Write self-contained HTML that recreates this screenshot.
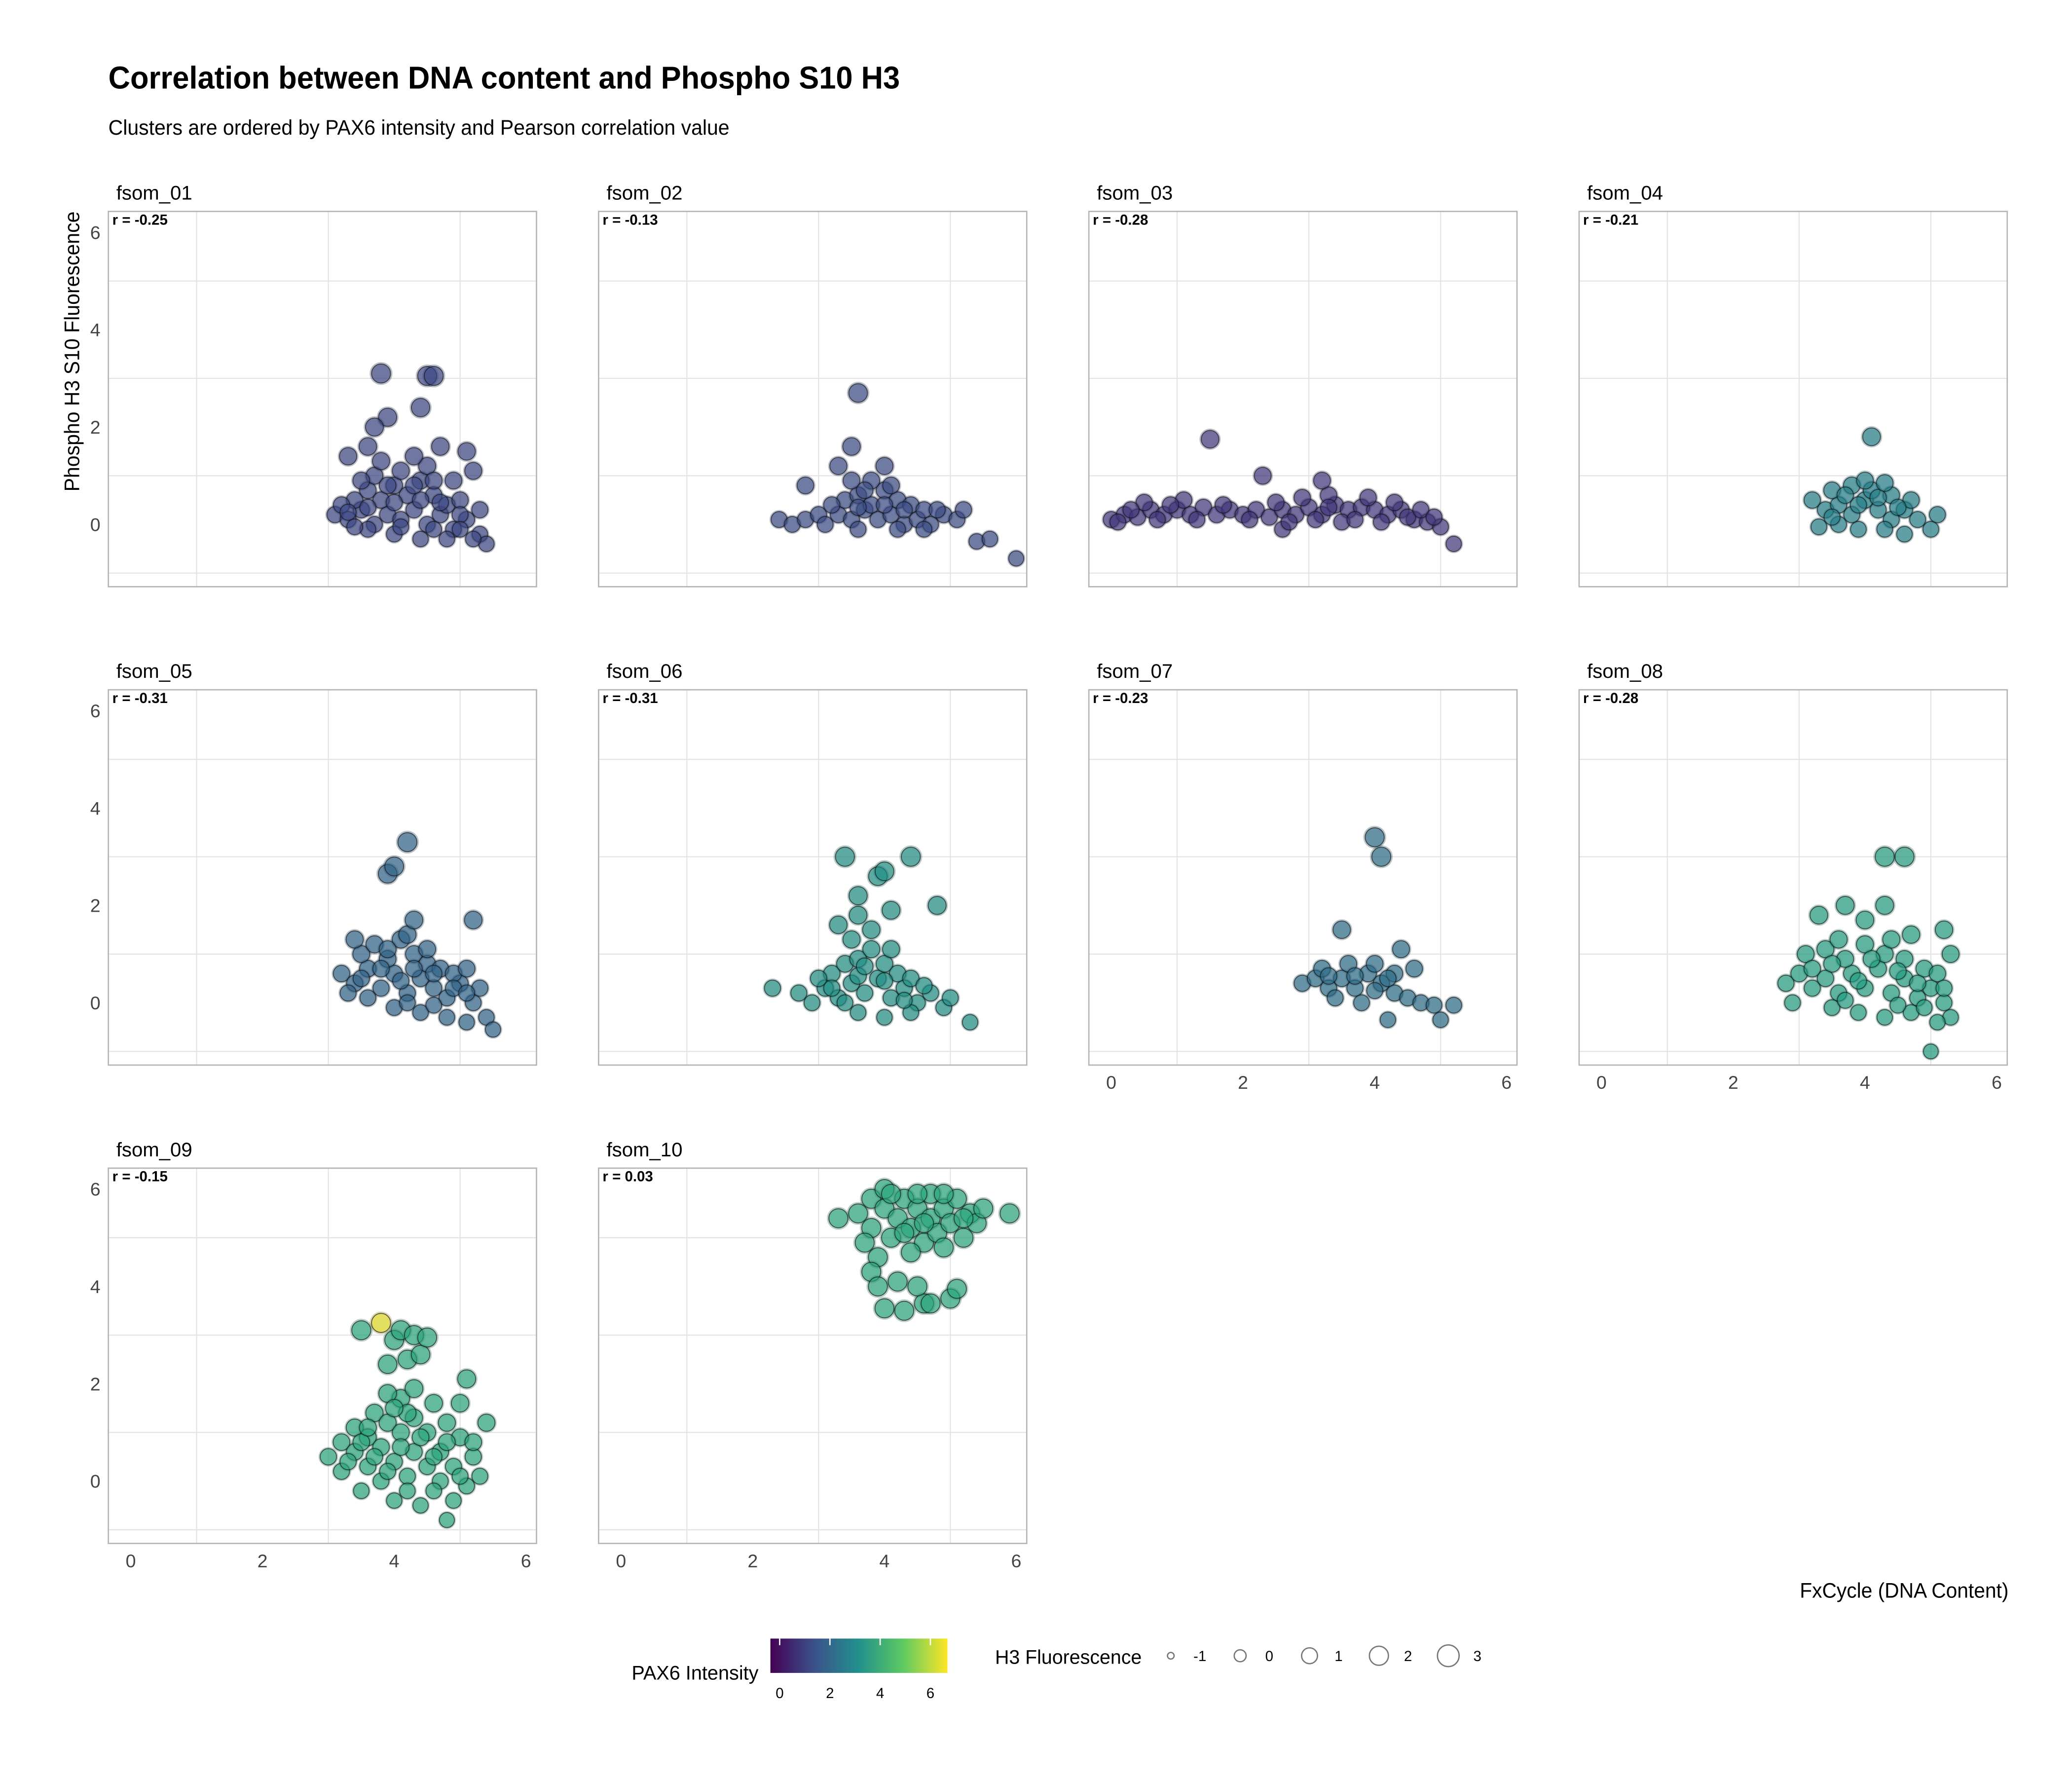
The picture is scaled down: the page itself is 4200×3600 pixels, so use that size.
<!DOCTYPE html>
<html><head><meta charset="utf-8">
<style>
html,body{margin:0;padding:0;background:#fff;}
svg{display:block;font-family:"Liberation Sans Narrow","Liberation Sans",sans-serif;}
</style></head>
<body>
<svg id="chart" width="4200" height="3600" viewBox="0 0 1568 1344" xmlns="http://www.w3.org/2000/svg">
<rect width="1568" height="1344" fill="#fff"/>
<text x="82" y="67" font-size="24" font-weight="bold" textLength="599" lengthAdjust="spacingAndGlyphs">Correlation between DNA content and Phospho S10 H3</text>
<text x="82" y="102" font-size="16" textLength="470" lengthAdjust="spacingAndGlyphs">Clusters are ordered by PAX6 intensity and Pearson correlation value</text>
<text transform="translate(60,266) rotate(-90)" text-anchor="middle" font-size="16" textLength="212" lengthAdjust="spacingAndGlyphs">Phospho H3 S10 Fluorescence</text>
<text x="1520" y="1209" text-anchor="end" font-size="16" textLength="158" lengthAdjust="spacingAndGlyphs">FxCycle (DNA Content)</text>
<g id="panels"></g>
<g id="legend">
<text x="574" y="1271" text-anchor="end" font-size="15" textLength="96" lengthAdjust="spacingAndGlyphs">PAX6 Intensity</text>
<defs><linearGradient id="vir" x1="0" x2="1" y1="0" y2="0">
<stop offset="0" stop-color="#440154"/><stop offset="0.25" stop-color="#3b528b"/><stop offset="0.5" stop-color="#21918c"/><stop offset="0.75" stop-color="#5ec962"/><stop offset="1" stop-color="#fde725"/></linearGradient></defs>
<rect x="583" y="1240" width="134" height="26" fill="url(#vir)"/>
<g id="cbticks"></g>
<text x="753" y="1259" font-size="15" textLength="111" lengthAdjust="spacingAndGlyphs">H3 Fluorescence</text>
<g id="sizelegend"></g>
</g>
</svg>
<script>
const panelNames = ["fsom_01","fsom_02","fsom_03","fsom_04","fsom_05","fsom_06","fsom_07","fsom_08","fsom_09","fsom_10"];
const panelR = ["-0.25","-0.13","-0.28","-0.21","-0.31","-0.31","-0.23","-0.28","-0.15","0.03"];
const panelPax = [1.2,1.3,0.8,2.8,1.9,3.3,2.2,3.7,4.0,4.0];
const xTicks = [0,2,4,6];
const yTicks = [0,2,4,6];
const sizeLegendValues = [-1,0,1,2,3];
const colorTicks = [0,2,4,6];
const pts = [
"3.1,0.2 3.3,0.1 3.5,0.3 3.7,0.0 3.9,0.2 4.1,0.1 4.3,0.3 4.5,0.0 4.7,0.2 4.9,-0.1 5.1,0.1 5.3,-0.2 5.4,-0.4 3.4,0.5 3.6,0.7 3.8,0.5 4.0,0.8 4.2,0.6 4.4,0.9 4.6,0.6 4.8,0.4 5.0,0.5 3.7,1.0 4.1,1.1 4.5,1.2 4.9,0.9 3.6,-0.1 4.0,-0.2 4.4,-0.3 4.8,-0.3 5.2,-0.3 3.2,0.4 3.8,1.3 4.3,1.4 3.3,1.4 3.6,1.6 3.9,2.2 3.7,2.0 4.4,2.4 3.8,3.1 4.5,3.05 4.6,3.05 4.7,1.6 5.1,1.5 5.2,1.1 5.3,0.3 3.3,0.25 3.6,0.35 4.0,0.45 4.4,0.5 4.7,0.45 5.0,0.2 3.9,0.8 4.3,0.8 4.6,0.9 3.5,0.9 4.1,-0.05 4.6,-0.1 5.0,-0.1 3.4,-0.05",
"2.4,0.1 2.6,0.0 2.8,0.1 3.0,0.2 3.1,0.0 3.3,0.2 3.5,0.1 3.7,0.3 3.9,0.1 4.1,0.2 4.3,0.0 4.5,0.1 4.7,0.0 4.9,0.2 5.1,0.1 3.4,0.5 3.6,0.6 3.8,0.4 4.0,0.7 4.2,0.5 4.4,0.4 4.6,0.3 3.5,0.9 3.8,0.9 4.1,0.8 3.3,1.2 4.0,1.2 3.5,1.6 3.6,2.7 2.8,0.8 5.2,0.3 5.4,-0.35 5.6,-0.3 6.0,-0.7 3.6,-0.1 4.2,-0.1 4.6,-0.1 3.2,0.4 3.6,0.35 4.0,0.4 4.3,0.3 3.7,0.7 4.8,0.3",
"0,0.1 0.2,0.2 0.4,0.15 0.6,0.3 0.8,0.2 1.0,0.3 1.2,0.2 1.4,0.35 1.6,0.2 1.8,0.3 2.0,0.2 2.2,0.3 2.4,0.15 2.6,0.3 2.8,0.2 3.0,0.35 3.2,0.2 3.4,0.4 3.6,0.3 3.8,0.35 4.0,0.3 4.2,0.2 4.4,0.3 4.6,0.1 4.8,0.05 5.0,-0.05 3.5,0.05 4.1,0.05 2.9,0.55 3.3,0.6 3.9,0.55 0.5,0.45 1.1,0.5 1.5,1.75 2.3,1.0 3.2,0.9 5.2,-0.4 2.6,-0.1 0.1,0.05 0.3,0.3 0.7,0.1 0.9,0.4 1.3,0.1 1.7,0.4 2.1,0.1 2.5,0.45 2.7,0.05 3.1,0.1 3.3,0.35 3.7,0.1 4.3,0.45 4.5,0.15 4.7,0.3 4.9,0.15",
"3.2,0.5 3.4,0.3 3.6,0.4 3.8,0.2 4.0,0.5 4.2,0.3 4.4,0.1 4.6,0.3 4.8,0.1 5.0,-0.1 3.5,0.7 3.8,0.8 4.1,0.7 4.4,0.6 4.7,0.5 3.6,0.0 3.9,-0.1 4.3,-0.1 4.6,-0.2 5.1,0.2 4.0,0.9 4.1,1.8 3.3,-0.05 3.5,0.15 3.9,0.4 4.2,0.55 4.5,0.35 3.7,0.6 4.3,0.85",
"3.2,0.6 3.4,0.4 3.6,0.7 3.8,0.3 4.0,0.6 4.2,0.2 4.4,0.5 4.6,0.3 4.8,0.1 5.0,0.4 5.2,0.0 5.3,0.3 5.4,-0.3 3.5,1.0 3.7,1.2 3.9,0.9 4.1,1.3 4.3,1.0 4.5,0.8 4.7,0.7 4.9,0.6 5.1,0.7 3.6,0.1 4.0,-0.1 4.4,-0.2 4.8,-0.3 5.1,-0.4 4.2,1.4 3.4,1.3 4.3,1.7 5.2,1.7 3.9,2.65 4.0,2.8 4.2,3.3 5.5,-0.55 3.3,0.2 3.5,0.5 3.8,0.7 4.1,0.45 4.3,0.7 4.6,0.6 4.9,0.3 5.1,0.2 3.9,1.1 4.5,1.1 4.2,0.0 4.6,-0.05",
"2.7,0.2 2.9,0.0 3.1,0.3 3.3,0.1 3.5,0.4 3.7,0.2 3.9,0.5 4.1,0.1 4.3,0.3 4.5,0.0 4.7,0.2 4.9,-0.1 5.0,0.1 3.2,0.6 3.4,0.8 3.6,0.9 3.8,1.1 4.0,0.8 4.2,0.6 4.4,0.5 3.5,1.3 3.8,1.5 3.6,-0.2 4.0,-0.3 4.4,-0.2 3.3,1.6 3.6,1.8 3.6,2.2 3.9,2.6 4.0,2.7 3.4,3.0 4.4,3.0 4.8,2.0 4.1,1.9 2.3,0.3 5.3,-0.4 3.0,0.5 3.2,0.3 3.6,0.55 4.0,0.45 4.3,0.05 4.6,0.35 3.7,0.75 4.1,1.1 3.4,0.0",
"2.9,0.4 3.1,0.5 3.3,0.3 3.5,0.5 3.7,0.3 3.9,0.6 4.1,0.4 4.3,0.2 4.5,0.1 4.7,0.0 4.9,-0.05 3.2,0.7 3.6,0.8 4.0,0.8 4.4,1.1 3.4,0.1 3.8,0.0 4.2,-0.35 4.6,0.7 5.0,-0.35 5.2,-0.05 3.5,1.5 4.0,3.4 4.1,3.0 4.3,0.6 3.3,0.55 3.7,0.55 4.0,0.25 4.2,0.5",
"2.8,0.4 3.0,0.6 3.2,0.3 3.4,0.5 3.6,0.2 3.8,0.6 4.0,0.3 4.2,0.7 4.4,0.2 4.6,0.5 4.8,0.1 5.0,0.3 5.2,0.0 5.3,-0.3 3.1,1.0 3.4,1.1 3.7,0.9 4.0,1.2 4.3,1.0 4.6,0.9 4.9,0.7 5.1,0.6 3.5,-0.1 3.9,-0.2 4.3,-0.3 4.7,-0.2 5.1,-0.4 3.6,1.3 4.4,1.3 3.3,1.8 3.7,2.0 4.0,1.7 4.3,2.0 4.3,3.0 4.6,3.0 4.7,1.4 5.2,1.5 5.3,1.0 5.0,-1.0 2.9,0.0 3.2,0.7 3.5,0.8 3.9,0.45 4.1,0.9 4.5,0.65 4.8,0.4 5.2,0.3 3.7,0.05 4.5,-0.05 4.9,-0.1",
"3.0,0.5 3.2,0.8 3.2,0.2 3.4,0.6 3.4,1.1 3.5,-0.2 3.6,0.3 3.6,0.9 3.7,1.4 3.8,0.0 3.8,0.7 3.9,1.2 4.0,-0.4 4.0,0.4 4.1,1.0 4.1,1.7 4.2,0.1 4.3,0.6 4.3,1.3 4.4,-0.5 4.5,0.3 4.5,1.0 4.6,1.6 4.7,0.0 4.7,0.6 4.8,1.2 4.9,-0.4 4.9,0.3 5.0,0.9 5.1,-0.1 5.2,0.5 5.3,0.1 3.9,1.8 4.3,1.9 4.8,-0.8 5.0,1.6 5.1,2.1 5.4,1.2 3.9,2.4 4.2,2.5 4.4,2.6 4.0,2.9 3.5,3.1 4.1,3.1 4.3,3.0 4.5,2.95 3.3,0.4 3.5,0.8 3.7,0.5 3.9,0.2 4.1,0.7 4.2,1.4 4.4,0.9 4.6,0.5 4.8,0.8 5.0,0.1 5.2,0.8 3.6,1.1 4.0,1.5 4.6,-0.2 4.2,-0.2 3.8,3.25,6.5",
"3.6,5.5 3.8,5.8 3.8,5.2 4.0,5.6 4.0,6.0 4.1,5.0 4.2,5.4 4.3,5.8 4.4,5.2 4.5,5.6 4.6,4.9 4.7,5.4 4.7,5.9 4.8,5.1 4.9,5.6 5.0,5.3 5.1,5.8 5.2,5.0 5.3,5.5 5.4,5.3 5.5,5.6 3.7,4.9 3.9,4.6 4.4,4.7 4.9,4.8 3.3,5.4 5.9,5.5 3.8,4.3 3.9,4.0 4.0,3.55 4.3,3.5 4.6,3.65 4.7,3.65 5.0,3.75 5.1,3.95 4.2,4.1 4.5,4.0 4.1,5.9 4.5,5.9 4.9,5.9 4.3,5.1 4.6,5.3 5.2,5.4"
];
const NS="http://www.w3.org/2000/svg";
function mk(tag,attrs,parent){const e=document.createElementNS(NS,tag);for(const k in attrs)e.setAttribute(k,attrs[k]);parent.appendChild(e);return e;}
const vir=[[68,1,84],[72,40,120],[62,73,137],[49,104,142],[38,130,142],[31,158,137],[53,183,121],[109,205,89],[180,222,44],[253,231,37]];
function rgb(v){let t=(v+0.4)/7.1;t=Math.max(0,Math.min(1,t))*(vir.length-1);const i=Math.min(vir.length-2,Math.floor(t)),f=t-i;return vir[i].map((a,k)=>Math.round(a+(vir[i+1][k]-a)*f));}
function color(v){const c=rgb(v);return `rgb(${c[0]},${c[1]},${c[2]})`;}
function dark(v){const c=rgb(v).map(x=>Math.round(x*0.55));return `rgb(${c[0]},${c[1]},${c[2]})`;}
function rad(v){return Math.max(4,6+0.4*Math.min(v,3));}
const colX=[82,453,824,1195], rowY=[160,522,884], PW=324, PH=284;
const XMIN=-0.34,XMAX=6.16,YMIN=-1.28,YMAX=6.43;
const panelsG=document.getElementById('panels');
panelNames.forEach((name,i)=>{
  const c=i%4,r=Math.floor(i/4),x0=colX[c],y0=rowY[r];
  const sx=v=>x0+(v-XMIN)/(XMAX-XMIN)*PW, sy=v=>y0+PH-(v-YMIN)/(YMAX-YMIN)*PH;
  const g=mk('g',{},panelsG);
  
  
  [1,3,5].forEach(v=>{const l=mk('line',{x1:sx(v),x2:sx(v),y1:y0,y2:y0+PH,stroke:'#e3e3e3','stroke-width':0.8},g);
    });
  [-1,1,3,5].forEach(v=>{const l=mk('line',{y1:sy(v),y2:sy(v),x1:x0,x2:x0+PW,stroke:'#e3e3e3','stroke-width':0.8},g);
    });
  const cl='clip'+i;const cp=mk('clipPath',{id:cl},g);mk('rect',{x:x0,y:y0,width:PW,height:PH},cp);
  const pg=mk('g',{'clip-path':`url(#${cl})`},g);
  const parsed=pts[i].split(' ').map(s=>s.split(',').map(Number));
  const under=mk('g',{},pg);
  
  
  parsed.forEach(a=>{const pax=a.length>2?a[2]:panelPax[i];
    const u=mk('circle',{cx:sx(a[0]),cy:sy(a[1]),r:rad(a[1])*1.2,fill:dark(pax),'fill-opacity':0.3},under);
    });
  parsed.forEach(a=>{const pax=a.length>2?a[2]:panelPax[i];
    const ci=mk('circle',{cx:sx(a[0]),cy:sy(a[1]),r:rad(a[1]),fill:color(pax),'fill-opacity':0.6,stroke:'#111','stroke-opacity':0.65,'stroke-width':0.7},pg);
    });
  const b=mk('rect',{x:x0,y:y0,width:PW,height:PH,fill:'none',stroke:'#b5b5b5','stroke-width':1},g);
  
  const st=mk('text',{x:x0+6,y:y0-9,'font-size':15},g);st.textContent=name;
  
  const rt=mk('text',{x:x0+3,y:y0+10,'font-size':11,'font-weight':'bold'},g);rt.textContent='r = '+panelR[i];
  
  if(c===0){yTicks.forEach(v=>{const t=mk('text',{x:x0-6,y:sy(v)+5,'text-anchor':'end','font-size':14,fill:'#444'},g);t.textContent=v;
    });}
  const bottom=(r===2)||(r===1&&c>=2);
  if(bottom){xTicks.forEach(v=>{const t=mk('text',{x:sx(v),y:y0+PH+18,'text-anchor':'middle','font-size':14,fill:'#444'},g);t.textContent=v;
    });}
});
const cb=document.getElementById('cbticks');
colorTicks.forEach(v=>{const x=583+(v+0.37)/7.05*134;
  const t=mk('text',{x:x,y:1285,'text-anchor':'middle','font-size':11},cb);t.textContent=v;
  
  const l=mk('line',{x1:x,x2:x,y1:1240,y2:1245,stroke:'#fff'},cb);});
const sl=document.getElementById('sizelegend');
sizeLegendValues.forEach((v,k)=>{const x=886+k*52.5;
  const c=mk('circle',{cx:x,cy:1253,r:[2.5,4.5,6,7.2,8.2][k],fill:'none',stroke:'#777','stroke-width':1},sl);
  
  const t=mk('text',{x:x+22,y:1257,'text-anchor':'middle','font-size':11},sl);t.textContent=v;
  });
</script>
</body></html>
